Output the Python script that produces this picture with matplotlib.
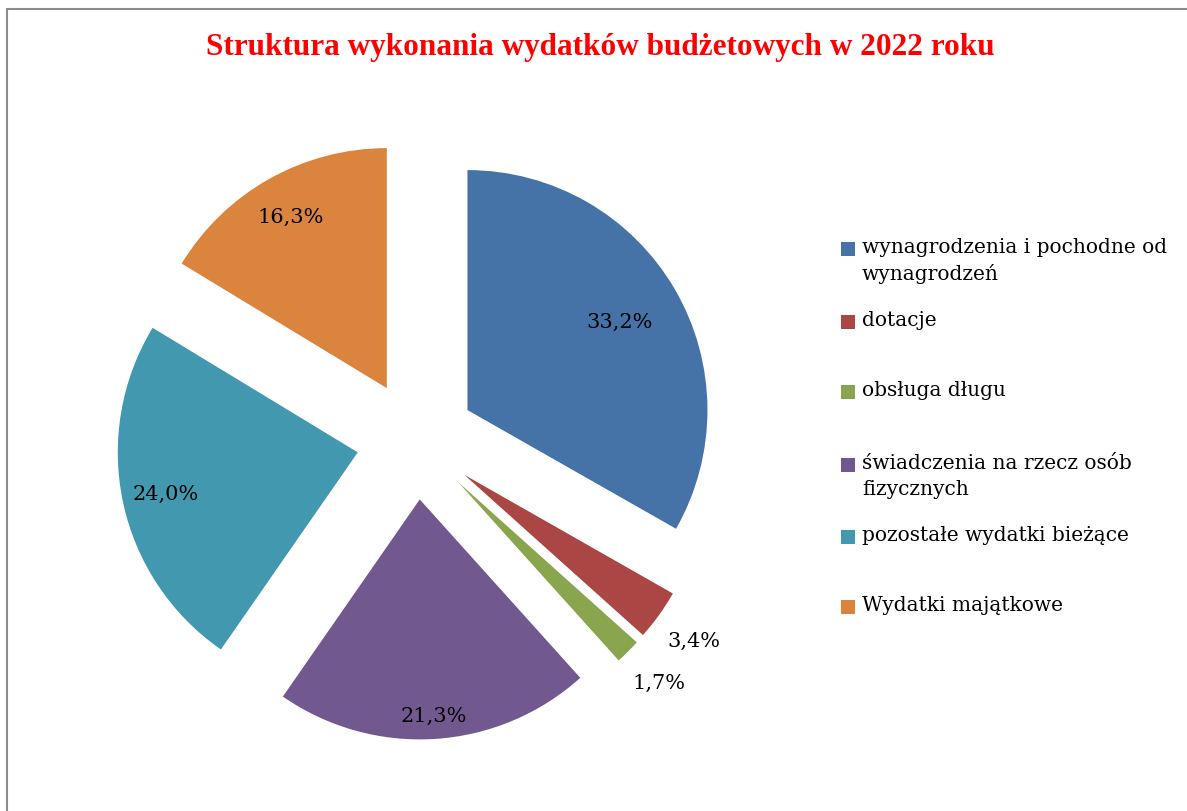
import matplotlib
matplotlib.use("Agg")
import matplotlib.pyplot as plt
from matplotlib.patches import Rectangle
import numpy as np

categories = ["wynagrodzenia i pochodne od\nwynagrodzeń", "dotacje", "obsługa długu",
              "świadczenia na rzecz osób\nfizycznych", "pozostałe wydatki bieżące",
              "Wydatki majątkowe"]
values = [33.2, 3.4, 1.7, 21.3, 24.0, 16.3]
title = "Struktura wykonania wydatków budżetowych w 2022 roku"

colors = ["#4572A7", "#AA4643", "#89A54E", "#71588F", "#4198AF", "#DB843D"]
label_dist = [0.735, 1.18, 1.18, 0.9, 0.82, 0.82]

W, H = 1187, 812
fig = plt.figure(figsize=(W / 100, H / 100), dpi=100)
ax = fig.add_axes([0, 0, 1, 1])

font = "DejaVu Serif"
R = 240
cx, cy = 416, H - 441
wedges, texts, autotexts = ax.pie(
    values, colors=colors, startangle=90, counterclock=False,
    explode=[0.248 * R] * len(values), radius=R, center=(cx, cy),
    autopct=lambda p: f"{p:.1f}%".replace(".", ","), pctdistance=0.8,
    wedgeprops=dict(linewidth=0),
    textprops=dict(fontsize=15, family=font, color="black"), frame=True)
ax.set_xlim(0, W)
ax.set_ylim(0, H)
ax.set_aspect("equal")
ax.axis("off")

for w, t, d in zip(wedges, autotexts, label_dist):
    ang = np.deg2rad((w.theta1 + w.theta2) / 2)
    x0, y0 = w.center
    t.set_position((x0 + d * R * np.cos(ang), y0 + d * R * np.sin(ang)))

fig.text(600 / W, 1 - 48 / H, title, ha="center", va="center", color="#FF0000",
         fontsize=22.5, fontweight="bold", family="Liberation Serif")

# legend
leg_y = [250, 323, 393, 466, 538, 608]
for lab, col, y in zip(categories, colors, leg_y):
    ax.add_patch(Rectangle((841, H - y - 7), 14, 14, facecolor=col, edgecolor="none"))
    ax.text(862, H - y + 12, lab, ha="left", va="top", fontsize=14.5,
            family=font, color="black", linespacing=1.45)

# frame
fig.patches.append(Rectangle((7 / W, -0.1), 1.2, (H - 10) / H + 0.1,
                             transform=fig.transFigure, fill=False,
                             edgecolor="#8c8c8c", linewidth=1.5))

fig.savefig("out.png", dpi=100)
